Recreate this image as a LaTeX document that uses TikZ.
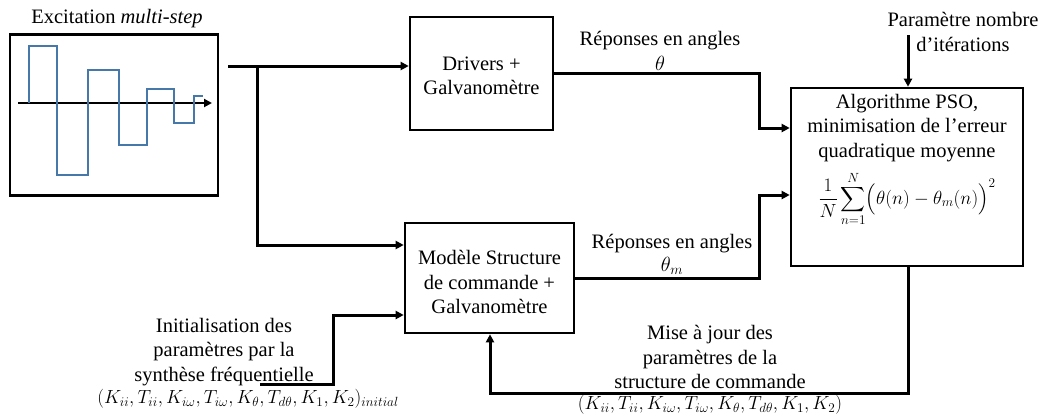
\RequirePackage{fix-cm}
\documentclass[tikz,border=0pt]{standalone}
\usepackage{amsmath}
\usepackage{fontspec}
\setmainfont{Liberation Serif}
\usetikzlibrary{arrows.meta}
\definecolor{wave}{RGB}{70,120,170}
\begin{document}
\begin{tikzpicture}[x=1pt,y=-1pt,
  blk/.style={draw,line width=2.6pt,inner sep=0pt},
  conn/.style={line width=3pt,-{Triangle[length=8pt,width=8pt]}},
  lbl/.style={font=\fontsize{20.5}{24.5}\selectfont,align=center,inner sep=0pt},
  mth/.style={font=\fontsize{19}{24}\selectfont,inner sep=0pt}]
\useasboundingbox (0,0) rectangle (1048,416);
% excitation
\node[blk,minimum width=208pt,minimum height=161pt] (exc) at (114,115) {};
\node[lbl] (exct) at (117,19) {Excitation \textit{multi-step}};
\coordinate (ax0) at (18,103);
\coordinate (ax1) at (212,103);
\draw[line width=2.6pt,-{Triangle[length=8pt,width=8pt]}] (ax0) -- (ax1);
\draw[wave,line width=2.2pt] (29,103) -- (29,46) -- (57,46) -- (57,175) -- (88,175) -- (88,70) -- (119,70) -- (119,145) -- (147,145) -- (147,89) -- (174,89) -- (174,123) -- (194,123) -- (194,96) -- (203,96);
% boxes
\node[blk,minimum width=143pt,minimum height=113pt] (drv) at (481.5,73.5) {};
\node[lbl] at (481.5,76) {Drivers +\\Galvanomètre};
\node[blk,minimum width=169pt,minimum height=110pt] (mod) at (489.5,278) {};
\node[lbl] at (489.5,282) {Modèle Structure\\de commande +\\Galvanomètre};
\node[blk,minimum width=232pt,minimum height=178pt] (pso) at (907,177) {};
\node[lbl,anchor=north] (psot) at (907,94) {Algorithme PSO,\\minimisation de l’erreur\\quadratique moyenne};
\node[mth,anchor=north] (psof) at (907,171) {$\displaystyle \frac{1}{N}\sum_{n=1}^{N}\Bigl(\theta(n)-\theta_m(n)\Bigr)^2$};
% connectors
\coordinate (s0) at (228,66);
\coordinate (br) at (257,66);
\draw[conn] (s0) -- (drv.west |- s0);
\draw[conn] (br) -- (257,245) -- (mod.west |- 0,245);
\draw[conn] (drv.east |- 0,73) -- (759,73) -- (759,128) -- (pso.west |- 0,128);
\draw[conn] (mod.east |- 0,278) -- (759,278) -- (759,195) -- (pso.west |- 0,195);
\node[lbl] at (660,41) {Réponses en angles};
\node[lbl] at (660,63) {$\theta$};
\node[lbl] at (672,244) {Réponses en angles};
\node[lbl] at (672,266) {$\theta_m$};
% iterations
\node[lbl] (it) at (963,32) {Paramètre nombre\\d’itérations};
\coordinate (it0) at (908,35);
\draw[conn] (it0) -- (pso.north -| it0);
% init
\node[lbl] at (224,352) {Initialisation des\\paramètres par la\\synthèse fréquentielle};
\node[mth] at (248,399) {$(K_{ii},T_{ii},K_{i\omega},T_{i\omega},K_{\theta},T_{d\theta},K_1,K_2)_{initial}$};
\coordinate (in0) at (260,384);
\draw[conn] (in0) -- (333,384) -- (333,315) -- (mod.west |- 0,315);
% feedback
\draw[conn] (pso.south -| 908,0) -- (908,393) -- (490,393) -- (mod.south -| 490,0);
\node[lbl] at (710,357) {Mise à jour des\\paramètres de la\\structure de commande};
\node[mth] at (710,405) {$(K_{ii},T_{ii},K_{i\omega},T_{i\omega},K_{\theta},T_{d\theta},K_1,K_2)$};
\end{tikzpicture}
\end{document}
